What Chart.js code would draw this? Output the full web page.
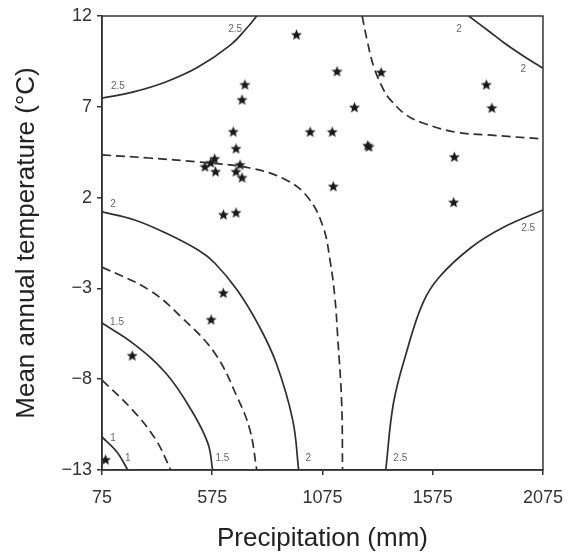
<!DOCTYPE html>
<html>
<head>
<meta charset="utf-8">
<script src="https://cdn.jsdelivr.net/npm/chart.js@4.4.1/dist/chart.umd.min.js"></script>
<style>
html,body{margin:0;padding:0;background:#fff;}
#wrap{width:575px;height:554px;position:relative;}
</style>
</head>
<body>
<div id="wrap"><canvas id="c" width="575" height="554"></canvas></div>
<script>
// ---- data ----
const xTicks = [75, 575, 1075, 1575, 2075];
const yTicks = [-13, -8, -3, 2, 7, 12];

const starX = [723,710,670,683,586,568,542,590,701,683,710,626,683,957,1141,1341,1220,1019,1119,1280,1286,1124,1818,1843,1673,1670,625,570,212,91];
const starY = [8.2,7.37,5.61,4.68,4.12,3.9,3.68,3.41,3.79,3.41,3.08,1.04,1.15,10.95,8.93,8.88,6.95,5.6,5.6,4.85,4.78,2.6,8.2,6.92,4.22,1.72,-3.27,-4.74,-6.72,-12.45];

// contour lines (x values, y values)
const c25aX = [75,214,364,511,657,732,777];
const c25aY = [7.48,7.81,8.37,9.19,10.4,11.34,12];
const c225aX = [75,289,511,746,910,1011,1078,1109,1131,1144,1162,1166];
const c225aY = [4.35,4.18,3.96,3.63,2.97,1.98,0.38,-1.44,-3.47,-5.68,-9.31,-13];
const c225bX = [1255,1277,1308,1353,1384,1455,1530,1676,1827,2075];
const c225bY = [12,10.68,9.19,7.92,7.37,6.55,6.11,5.61,5.45,5.23];
const c2bX = [1738,1827,1898,1986,2075];
const c2bY = [12,11.19,10.53,9.8,9.12];
const c25bX = [2075,1898,1752,1605,1530,1455,1397,1362];
const c25bY = [1.32,0.38,-0.72,-2.37,-3.81,-6.56,-9.31,-13];
const c2aX = [75,223,364,511,586,688,785,865,940,967];
const c2aY = [1.21,0.77,0.05,-0.89,-1.6,-3.09,-5.02,-7.11,-10.25,-13];
const c175X = [75,289,435,586,688,746,777];
const c175Y = [-1.82,-3.09,-4.58,-6.56,-8.98,-10.8,-13];
const c15X = [75,214,364,480,555,577];
const c15Y = [-4.91,-6.01,-7.66,-9.7,-11.52,-13];
const c125X = [75,214,320,387];
const c125Y = [-8.05,-9.7,-11.35,-13];
const c1X = [75,143,192];
const c1Y = [-11.18,-12.01,-13];

const labelText = ['2.5','2.5','2','2','2.5','2','1.5','1','1','1.5','2','2.5'];
const labelX = [147,679,1694,1986,2008,125,143,125,192,621,1011,1428];
const labelY = [8.15,11.28,11.28,9.08,0.33,1.65,-4.85,-11.24,-12.34,-12.34,-12.34,-12.34];

// ---- helpers ----
function zip(xs, ys){ return xs.map((x,i)=>({x:x, y:ys[i]})); }

function makeStar(){
  const s = 13, cv = document.createElement('canvas');
  cv.width = s; cv.height = s;
  const g = cv.getContext('2d');
  const cx = s/2, cy = s/2, R = 5.8, r = 2.6;
  g.beginPath();
  for (let i=0;i<10;i++){
    const a = -Math.PI/2 + i*Math.PI/5;
    const rad = (i%2===0)?R:r;
    g.lineTo(cx+rad*Math.cos(a), cy+rad*Math.sin(a));
  }
  g.closePath();
  g.fillStyle = '#1a1a1a';
  g.fill();
  return cv;
}
const starImg = makeStar();

const lineCol = '#2e2e2e';
function contour(xs, ys, dashed){
  return {
    type:'line',
    data: zip(xs, ys),
    borderColor: lineCol,
    borderWidth: 1.7,
    borderDash: dashed ? [9,5] : [],
    pointRadius: 0,
    pointHoverRadius: 0,
    tension: 0.4,
    fill: false,
    showLine: true
  };
}

const framePlugin = {
  id:'frame',
  afterDatasetsDraw(chart){
    const {ctx, chartArea:a, scales} = chart;
    ctx.save();
    ctx.fillStyle = '#666';
    ctx.font = '10px "Liberation Sans", Arial, sans-serif';
    ctx.textAlign = 'center';
    ctx.textBaseline = 'middle';
    labelText.forEach((t,i)=>{
      ctx.fillText(t, scales.x.getPixelForValue(labelX[i]), scales.y.getPixelForValue(labelY[i]));
    });
    ctx.strokeStyle = '#333';
    ctx.lineWidth = 1.5;
    ctx.strokeRect(a.left, a.top, a.right-a.left, a.bottom-a.top);
    ctx.restore();
  }
};

const ff = '"Liberation Sans", Arial, sans-serif';

new Chart(document.getElementById('c'), {
  type:'scatter',
  data:{
    datasets:[
      contour(c25aX,c25aY,false),
      contour(c225aX,c225aY,true),
      contour(c225bX,c225bY,true),
      contour(c2bX,c2bY,false),
      contour(c25bX,c25bY,false),
      contour(c2aX,c2aY,false),
      contour(c175X,c175Y,true),
      contour(c15X,c15Y,false),
      contour(c125X,c125Y,true),
      contour(c1X,c1Y,false),
      {
        type:'scatter',
        data: zip(starX, starY),
        pointStyle: starImg,
        pointRadius: 6,
        showLine:false
      }
    ]
  },
  options:{
    responsive:false,
    animation:false,
    events:[],
    layout:{padding:{top:16,right:22,left:0,bottom:0}},
    plugins:{legend:{display:false}, tooltip:{enabled:false}},
    scales:{
      x:{
        type:'linear', min:75, max:2075,
        afterBuildTicks(s){ s.ticks = xTicks.map(v=>({value:v})); },
        afterFit(s){ s.height = 84; },
        grid:{drawOnChartArea:false, tickLength:5, color:'#333', lineWidth:1.5},
        border:{color:'#333', width:1.5},
        ticks:{padding:12, color:'#333', font:{family:ff, size:18}, maxRotation:0,
          callback:(v)=>String(v)},
        title:{display:true, text:'Precipitation (mm)', color:'#222',
          font:{family:ff, size:26}, padding:{top:0,bottom:0}}
      },
      y:{
        type:'linear', min:-13, max:12,
        afterBuildTicks(s){ s.ticks = yTicks.map(v=>({value:v})); },
        afterFit(s){ s.width = 102; },
        grid:{drawOnChartArea:false, tickLength:5, color:'#333', lineWidth:1.5},
        border:{color:'#333', width:1.5},
        ticks:{padding:5, color:'#333', font:{family:ff, size:18},
          callback:(v)=>String(v).replace('-', '\u2212')},
        title:{display:true, text:'Mean annual temperature (\u00B0C)', color:'#222',
          font:{family:ff, size:26}, padding:{top:11,bottom:0}}
      }
    }
  },
  plugins:[framePlugin]
});
</script>
</body>
</html>
